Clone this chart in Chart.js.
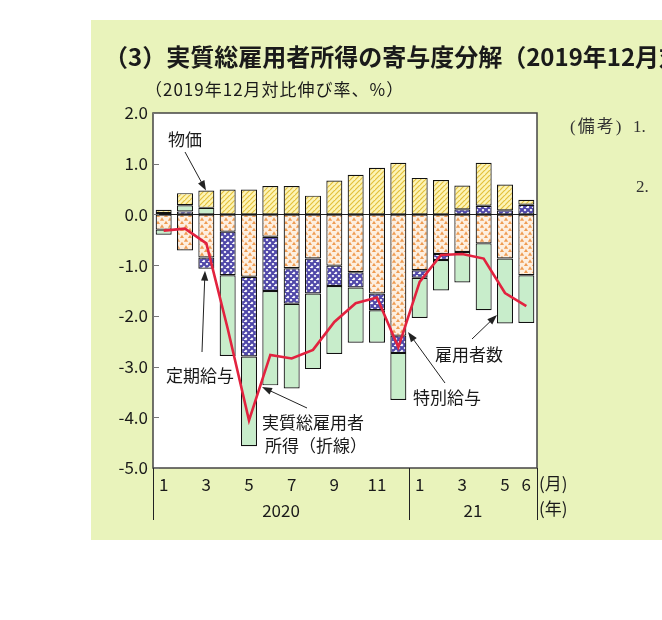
<!DOCTYPE html>
<html><head><meta charset="utf-8">
<script src="https://cdn.jsdelivr.net/npm/chart.js@4.4.1/dist/chart.umd.min.js"></script>
<style>html,body{margin:0;padding:0;background:#fff;}canvas{display:block;}</style>
</head><body>
<canvas id="c" width="662" height="620"></canvas>
<script>
const months = ['2020-01','2020-02','2020-03','2020-04','2020-05','2020-06','2020-07','2020-08','2020-09','2020-10','2020-11','2020-12','2021-01','2021-02','2021-03','2021-04','2021-05','2021-06'];
const monthTicks = ['1','','3','','5','','7','','9','','11','','1','','3','','5','6'];
const yearLabels = ['2020','21'];
const yearFirstIndex = [0, 12];
const yTicks = [2, 1, 0, -1, -2, -3, -4, -5];

const regular   = [-0.30,-0.71,-0.85,-0.34,-1.23,-0.44,-1.06,-0.87,-1.01,-1.14,-1.56,-2.39,-1.10,-0.78,-0.74,-0.57,-0.87,-1.20];
const special   = [ 0.03, 0.06,-0.22,-0.86,-1.57,-1.07,-0.70,-0.69,-0.40,-0.30,-0.33,-0.34,-0.15,-0.12, 0.10, 0.17, 0.08, 0.19];
const employees = [-0.10, 0.12, 0.13,-1.59,-1.77,-1.86,-1.67,-1.49,-1.34,-1.09,-0.64,-0.93,-0.79,-0.60,-0.60,-1.32,-1.28,-0.94];
const prices    = [ 0.06, 0.24, 0.34, 0.49, 0.49, 0.56, 0.56, 0.37, 0.67, 0.78, 0.92, 1.02, 0.72, 0.68, 0.47, 0.85, 0.51, 0.10];
const totalIncome = [-0.32,-0.28,-0.57,-2.25,-4.06,-2.77,-2.84,-2.67,-2.12,-1.75,-1.64,-2.62,-1.33,-0.80,-0.78,-0.87,-1.55,-1.81];

const FONT = '"Noto Sans CJK JP", "Noto Sans", sans-serif';

function mkPattern(w, h, draw){
  const c = document.createElement('canvas'); c.width = w; c.height = h;
  const g = c.getContext('2d'); draw(g, w, h);
  return document.getElementById('c').getContext('2d').createPattern(c, 'repeat');
}
const yellowHatch = mkPattern(5, 5, (g, w, h) => {
  g.fillStyle = '#fdf4b6'; g.fillRect(0, 0, w, h);
  g.strokeStyle = '#e3c03c'; g.lineWidth = 1.2; g.beginPath();
  g.moveTo(-1, h + 1); g.lineTo(w + 1, -1);
  g.moveTo(-1 - w, h + 1); g.lineTo(1, -1);
  g.moveTo(w - 1, 2 * h + 1); g.lineTo(2 * w + 1, h - 1);
  g.stroke();
});
const orangeDots = mkPattern(8, 7, (g, w, h) => {
  g.fillStyle = '#fdefe0'; g.fillRect(0, 0, w, h);
  g.fillStyle = '#ef9c52';
  const tri = (x, y) => { g.beginPath(); g.moveTo(x, y - 1.8); g.lineTo(x + 2.2, y + 1.7); g.lineTo(x - 2.2, y + 1.7); g.closePath(); g.fill(); };
  tri(2, 2); tri(6, 5.5); tri(-2, 5.5); tri(10, 5.5);
});
const blueCheck = mkPattern(6, 6, (g, w, h) => {
  g.fillStyle = '#ffffff'; g.fillRect(0, 0, w, h);
  g.strokeStyle = '#4f47a8'; g.lineWidth = 2.2; g.beginPath();
  for (let k = -1; k <= 1; k++) {
    g.moveTo(k * w - 1, -1); g.lineTo(k * w + w + 1, h + 1);
    g.moveTo(k * w - 1, h + 1); g.lineTo(k * w + w + 1, -1);
  }
  g.stroke();
});
const greenFill = '#c8edcb';

function arrow(ctx, x1, y1, x2, y2){
  const ang = Math.atan2(y2 - y1, x2 - x1), L = 10, W = 3.6;
  ctx.beginPath(); ctx.moveTo(x1, y1);
  ctx.lineTo(x2 - Math.cos(ang) * L * 0.8, y2 - Math.sin(ang) * L * 0.8); ctx.stroke();
  ctx.beginPath(); ctx.moveTo(x2, y2);
  ctx.lineTo(x2 - Math.cos(ang) * L - Math.sin(ang) * W, y2 - Math.sin(ang) * L + Math.cos(ang) * W);
  ctx.lineTo(x2 - Math.cos(ang) * L + Math.sin(ang) * W, y2 - Math.sin(ang) * L - Math.cos(ang) * W);
  ctx.closePath(); ctx.fill();
}

const deco = {
  id: 'deco',
  beforeDraw(chart){
    const {ctx, chartArea: a} = chart;
    ctx.save();
    ctx.fillStyle = '#ffffff'; ctx.fillRect(0, 0, chart.width, chart.height);
    ctx.fillStyle = '#e9f3bb'; ctx.fillRect(91, 20, chart.width - 91, 520);
    ctx.fillStyle = '#ffffff'; ctx.fillRect(a.left, a.top, a.right - a.left, a.bottom - a.top);
    ctx.fillStyle = '#1a1a1a'; ctx.textBaseline = 'middle'; ctx.textAlign = 'left';
    ctx.font = 'bold 24px ' + FONT;
    ctx.fillText('（3）実質総雇用者所得の寄与度分解（2019年12月対比）', 104, 57);
    ctx.font = '17px ' + FONT;
    ctx.letterSpacing = '1px';
    ctx.fillText('（2019年12月対比伸び率、%）', 145, 90);
    ctx.letterSpacing = '0px';
    ctx.font = '17px "Liberation Serif", "DejaVu Serif", "Noto Sans CJK JP", serif';
    ctx.fillStyle = '#333';
    ctx.letterSpacing = '2px';
    ctx.fillText('(備考)', 570, 128);
    ctx.letterSpacing = '0px';
    ctx.fillText('1.', 633, 128);
    ctx.fillText('2.', 636, 188);
    ctx.restore();
  },
  beforeDatasetsDraw(chart){
    const {ctx, chartArea: a, scales: {y}} = chart;
    ctx.save();
    ctx.strokeStyle = '#222'; ctx.lineWidth = 1;
    const y0 = Math.round(y.getPixelForValue(0)) + 0.5;
    ctx.beginPath(); ctx.moveTo(a.left, y0); ctx.lineTo(a.right, y0); ctx.stroke();
    ctx.restore();
  },
  afterDatasetsDraw(chart){
    const {ctx, chartArea: a, scales: {x, y}} = chart;
    ctx.save();
    ctx.strokeStyle = '#444'; ctx.lineWidth = 1.5;
    ctx.strokeRect(a.left, a.top, a.right - a.left, a.bottom - a.top);
    ctx.strokeStyle = '#777'; ctx.lineWidth = 1;
    yTicks.forEach(v => {
      const py = Math.round(y.getPixelForValue(v)) + 0.5;
      ctx.beginPath(); ctx.moveTo(a.left, py); ctx.lineTo(a.left + 6, py); ctx.stroke();
    });
    ctx.strokeStyle = '#222'; ctx.lineWidth = 1;
    const bounds = yearFirstIndex.map(i => i === 0 ? a.left : (x.getPixelForValue(i - 1) + x.getPixelForValue(i)) / 2);
    bounds.push(a.right);
    bounds.forEach(bx => {
      ctx.beginPath(); ctx.moveTo(Math.round(bx) + 0.5, a.bottom); ctx.lineTo(Math.round(bx) + 0.5, a.bottom + 52); ctx.stroke();
    });
    ctx.fillStyle = '#1a1a1a'; ctx.textBaseline = 'middle';
    ctx.font = '17px ' + FONT; ctx.textAlign = 'center';
    yearLabels.forEach((t, i) => ctx.fillText(t, (bounds[i] + bounds[i + 1]) / 2, a.bottom + 43));
    ctx.textAlign = 'left';
    ctx.fillText('(月)', a.right + 2, a.bottom + 16);
    ctx.fillText('(年)', a.right + 2, a.bottom + 41);
    ctx.font = '17px ' + FONT;
    ctx.fillText('物価', 168, 140);
    ctx.fillText('定期給与', 166, 376);
    ctx.fillText('実質総雇用者', 262, 423);
    ctx.fillText('所得（折線）', 265, 446);
    ctx.fillText('雇用者数', 435, 355);
    ctx.fillText('特別給与', 413, 398);
    ctx.strokeStyle = '#222'; ctx.fillStyle = '#222'; ctx.lineWidth = 1;
    arrow(ctx, 185, 152, 206, y.getPixelForValue(prices[2] + employees[2]));
    arrow(ctx, 202, 352, 205, y.getPixelForValue(regular[2] + special[2]) + 2);
    arrow(ctx, 307, 408, 262, 387);
    arrow(ctx, 472, 339, 497, 315);
    arrow(ctx, 445, 383, 408, 332);
    ctx.restore();
  }
};

const barCommon = {type: 'bar', stack: 'bars', order: 1, borderColor: '#111111', borderWidth: 1.2, borderSkipped: false, barPercentage: 0.75, categoryPercentage: 1};

new Chart(document.getElementById('c'), {
  data: {
    labels: months,
    datasets: [
      Object.assign({label: '定期給与', data: regular, backgroundColor: orangeDots}, barCommon),
      Object.assign({label: '特別給与', data: special, backgroundColor: blueCheck}, barCommon),
      Object.assign({label: '雇用者数', data: employees, backgroundColor: greenFill}, barCommon),
      Object.assign({label: '物価', data: prices, backgroundColor: yellowHatch}, barCommon),
      {type: 'line', label: '実質総雇用者所得', data: totalIncome, stack: 'line', order: 0,
       borderColor: '#e2233f', borderWidth: 2.6, pointRadius: 0, tension: 0, fill: false}
    ]
  },
  options: {
    responsive: false, animation: false,
    layout: {padding: {left: 0, top: 113, right: 125, bottom: 122}},
    plugins: {legend: {display: false}, tooltip: {enabled: false}},
    scales: {
      x: {
        stacked: true, offset: true,
        grid: {display: false, drawTicks: false}, border: {display: false},
        ticks: {autoSkip: false, maxRotation: 0, padding: 6, color: '#1a1a1a', font: {family: FONT, size: 17},
                callback: (v, i) => monthTicks[i]},
        afterFit: s => { s.height = 30; }
      },
      y: {
        stacked: true, min: -5, max: 2,
        grid: {display: false, drawTicks: false}, border: {display: false},
        ticks: {stepSize: 1, padding: 5, color: '#1a1a1a', font: {family: FONT, size: 17},
                callback: v => v.toFixed(1)},
        afterFit: s => { s.width = 153; }
      }
    }
  },
  plugins: [deco]
});
</script>
</body></html>
